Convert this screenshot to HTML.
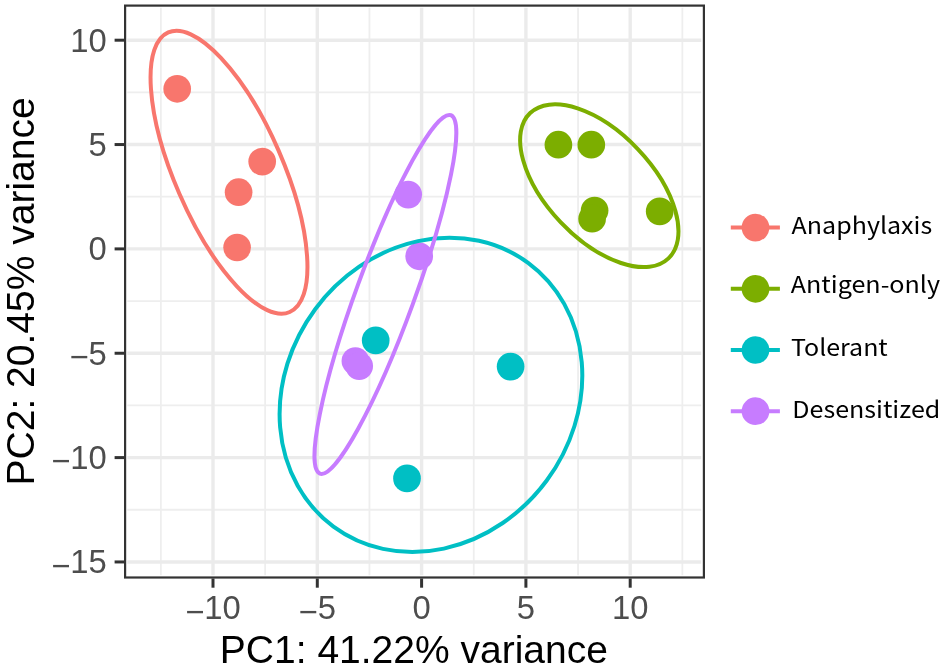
<!DOCTYPE html>
<html lang="en"><head><meta charset="utf-8"><title>PCA plot</title>
<style>html,body{margin:0;padding:0;background:#fff;}svg{display:block;will-change:transform;}</style>
</head><body>
<svg width="944" height="670" viewBox="0 0 944 670">
<rect width="944" height="670" fill="#fff"/>
<g stroke="#EEEEEE" stroke-width="1.8">
<line x1="160.85" y1="7.8" x2="160.85" y2="575.2"/>
<line x1="265.15" y1="7.8" x2="265.15" y2="575.2"/>
<line x1="369.45" y1="7.8" x2="369.45" y2="575.2"/>
<line x1="473.75" y1="7.8" x2="473.75" y2="575.2"/>
<line x1="578.05" y1="7.8" x2="578.05" y2="575.2"/>
<line x1="682.35" y1="7.8" x2="682.35" y2="575.2"/>
<line x1="127.3" y1="92.38" x2="701.2" y2="92.38"/>
<line x1="127.3" y1="196.72" x2="701.2" y2="196.72"/>
<line x1="127.3" y1="301.07" x2="701.2" y2="301.07"/>
<line x1="127.3" y1="405.43" x2="701.2" y2="405.43"/>
<line x1="127.3" y1="509.77" x2="701.2" y2="509.77"/>
</g>
<g stroke="#EBEBEB" stroke-width="3.4">
<line x1="213.00" y1="7.8" x2="213.00" y2="575.2"/>
<line x1="317.30" y1="7.8" x2="317.30" y2="575.2"/>
<line x1="421.60" y1="7.8" x2="421.60" y2="575.2"/>
<line x1="525.90" y1="7.8" x2="525.90" y2="575.2"/>
<line x1="630.20" y1="7.8" x2="630.20" y2="575.2"/>
<line x1="127.3" y1="40.20" x2="701.2" y2="40.20"/>
<line x1="127.3" y1="144.55" x2="701.2" y2="144.55"/>
<line x1="127.3" y1="248.90" x2="701.2" y2="248.90"/>
<line x1="127.3" y1="353.25" x2="701.2" y2="353.25"/>
<line x1="127.3" y1="457.60" x2="701.2" y2="457.60"/>
<line x1="127.3" y1="561.95" x2="701.2" y2="561.95"/>
</g>
<g fill="#F8766D">
<circle cx="177.2" cy="88.8" r="13.85"/>
<circle cx="262.2" cy="161.6" r="13.85"/>
<circle cx="238.6" cy="192.2" r="13.85"/>
<circle cx="237.1" cy="247.5" r="13.85"/>
</g>
<g fill="#7CAE00">
<circle cx="558.4" cy="144.7" r="13.85"/>
<circle cx="591.3" cy="144.7" r="13.85"/>
<circle cx="594.6" cy="210.5" r="13.85"/>
<circle cx="592.1" cy="218.7" r="13.85"/>
<circle cx="659.7" cy="211.4" r="13.85"/>
</g>
<g fill="#00BFC4">
<circle cx="375.7" cy="340.4" r="13.85"/>
<circle cx="510.6" cy="366.6" r="13.85"/>
<circle cx="407.0" cy="478.4" r="13.85"/>
</g>
<g fill="#C77CFF">
<circle cx="408.2" cy="194.6" r="13.85"/>
<circle cx="419.2" cy="256.3" r="13.85"/>
<circle cx="355.4" cy="361.1" r="13.85"/>
<circle cx="359.2" cy="366.1" r="13.85"/>
</g>
<g fill="none" stroke-width="4.0">
<ellipse cx="229.00" cy="172.20" rx="152.40" ry="54.10" stroke="#F8766D" transform="rotate(66.50 229.00 172.20)"/>
<ellipse cx="599.30" cy="185.70" rx="100.30" ry="53.19" stroke="#7CAE00" transform="rotate(46.40 599.30 185.70)"/>
<ellipse cx="430.95" cy="394.85" rx="163.90" ry="144.01" stroke="#00BFC4" transform="rotate(-53.50 430.95 394.85)"/>
<ellipse cx="385.40" cy="294.40" rx="190.79" ry="29.07" stroke="#C77CFF" transform="rotate(-69.94 385.40 294.40)"/>
</g>
<rect x="125.1" y="5.6" width="578.80" height="571.90" fill="none" stroke="#333" stroke-width="2.2"/>
<g stroke="#333" stroke-width="3.0">
<line x1="213.00" y1="578.5" x2="213.00" y2="587.7"/>
<line x1="317.30" y1="578.5" x2="317.30" y2="587.7"/>
<line x1="421.60" y1="578.5" x2="421.60" y2="587.7"/>
<line x1="525.90" y1="578.5" x2="525.90" y2="587.7"/>
<line x1="630.20" y1="578.5" x2="630.20" y2="587.7"/>
<line x1="114.6" y1="40.20" x2="124.1" y2="40.20"/>
<line x1="114.6" y1="144.55" x2="124.1" y2="144.55"/>
<line x1="114.6" y1="248.90" x2="124.1" y2="248.90"/>
<line x1="114.6" y1="353.25" x2="124.1" y2="353.25"/>
<line x1="114.6" y1="457.60" x2="124.1" y2="457.60"/>
<line x1="114.6" y1="561.95" x2="124.1" y2="561.95"/>
</g>
<g font-family="'Liberation Sans', Arial, Helvetica, sans-serif" font-size="32.8" fill="#4D4D4D">
<text x="213.00" y="619.3" text-anchor="middle"><tspan dy="3.2">−</tspan><tspan dy="-3.2">10</tspan></text>
<text x="317.30" y="619.3" text-anchor="middle"><tspan dy="3.2">−</tspan><tspan dy="-3.2">5</tspan></text>
<text x="421.60" y="619.3" text-anchor="middle">0</text>
<text x="525.90" y="619.3" text-anchor="middle">5</text>
<text x="630.20" y="619.3" text-anchor="middle">10</text>
<text x="106.8" y="51.70" text-anchor="end">10</text>
<text x="106.8" y="156.05" text-anchor="end">5</text>
<text x="106.8" y="260.40" text-anchor="end">0</text>
<text x="106.8" y="364.75" text-anchor="end"><tspan dy="3.2">−</tspan><tspan dy="-3.2">5</tspan></text>
<text x="106.8" y="469.10" text-anchor="end"><tspan dy="3.2">−</tspan><tspan dy="-3.2">10</tspan></text>
<text x="106.8" y="573.45" text-anchor="end"><tspan dy="3.2">−</tspan><tspan dy="-3.2">15</tspan></text>
</g>
<g font-family="'Liberation Sans', Arial, Helvetica, sans-serif" font-size="39.0" fill="#000">
<text x="413.9" y="663.4" text-anchor="middle">PC1: 41.22% variance</text>
<text transform="translate(33.9 291.4) rotate(-90)" text-anchor="middle">PC2: 20.45% variance</text>
</g>
<line x1="730.8" y1="227.6" x2="779.9" y2="227.6" stroke="#F8766D" stroke-width="4"/>
<circle cx="755.5" cy="227.6" r="13.85" fill="#F8766D"/>
<text x="791.60" y="234.1" font-family="'Noto Sans CJK JP', 'Noto Sans CJK SC', 'DejaVu Sans', sans-serif" font-size="23.2" fill="#000" textLength="140.60" lengthAdjust="spacingAndGlyphs">Anaphylaxis</text>
<line x1="730.8" y1="288.8" x2="779.9" y2="288.8" stroke="#7CAE00" stroke-width="4"/>
<circle cx="755.5" cy="288.8" r="13.85" fill="#7CAE00"/>
<text x="790.70" y="292.9" font-family="'Noto Sans CJK JP', 'Noto Sans CJK SC', 'DejaVu Sans', sans-serif" font-size="23.2" fill="#000" textLength="149.40" lengthAdjust="spacingAndGlyphs">Antigen-only</text>
<line x1="730.8" y1="350.0" x2="779.9" y2="350.0" stroke="#00BFC4" stroke-width="4"/>
<circle cx="755.5" cy="350.0" r="13.85" fill="#00BFC4"/>
<text x="790.90" y="356.0" font-family="'Noto Sans CJK JP', 'Noto Sans CJK SC', 'DejaVu Sans', sans-serif" font-size="23.2" fill="#000" textLength="96.90" lengthAdjust="spacingAndGlyphs">Tolerant</text>
<line x1="730.8" y1="411.2" x2="779.9" y2="411.2" stroke="#C77CFF" stroke-width="4"/>
<circle cx="755.5" cy="411.2" r="13.85" fill="#C77CFF"/>
<text x="792.30" y="418.2" font-family="'Noto Sans CJK JP', 'Noto Sans CJK SC', 'DejaVu Sans', sans-serif" font-size="23.2" fill="#000" textLength="148.00" lengthAdjust="spacingAndGlyphs">Desensitized</text>
</svg>
</body></html>
